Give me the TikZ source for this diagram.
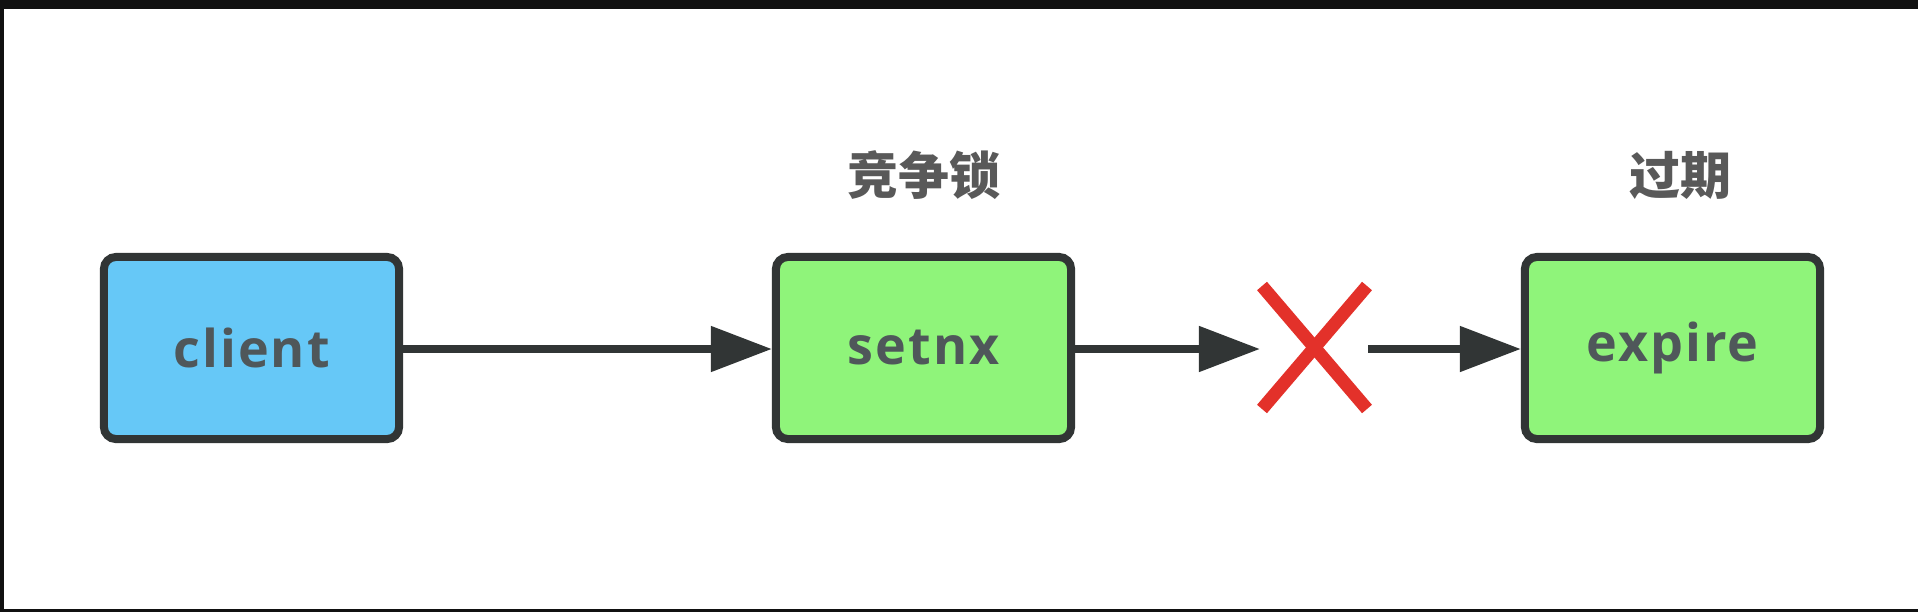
\documentclass[tikz,border=0pt]{standalone}
\usepackage{fontspec}
\usepackage{xcolor}
\usetikzlibrary{arrows.meta,calc}
\newfontfamily\boxfont{Open Sans}[LetterSpace=4]
\newfontfamily\cjk{Noto Sans CJK SC}
\definecolor{clientblue}{HTML}{66C8F7}
\definecolor{stepgreen}{HTML}{8FF47A}
\definecolor{boxline}{HTML}{313535}
\definecolor{boxtext}{HTML}{4F575A}
\definecolor{labgray}{HTML}{595959}
\definecolor{crossred}{HTML}{E3312A}
\definecolor{frameblack}{HTML}{111111}
\tikzset{
    box/.style={draw=boxline,line width=0.08cm,rounded corners=0.12cm,
        minimum width=2.95cm,minimum height=1.82cm,inner sep=0pt,
        font=\boxfont\bfseries\fontsize{14.8}{16}\selectfont,text=boxtext},
    lab/.style={inner sep=0pt,text=labgray,font=\cjk\bfseries\fontsize{14.5}{16}\selectfont},
    conn/.style={draw=boxline,line width=0.08cm,-{Triangle[length=0.61cm,width=0.44cm]}}
}
\begin{document}
\begin{tikzpicture}[x=0.01cm,y=-0.01cm]
        \useasboundingbox (0,0) rectangle (1918,612);
        \fill[white] (0,0) rectangle (1918,612);
        \fill[frameblack] (0,0) rectangle (1918,9);
        \fill[frameblack] (0,0) rectangle (4,612);
        \fill[frameblack] (0,609) rectangle (1918,612);
        \node[box,fill=clientblue] (client) at (251.5,348) {client};
        \node[box,fill=stepgreen] (setnx) at (923.5,348) {setnx};
        \node[box,fill=stepgreen] (expire) at (1672.5,348) {expire};
        \node[lab] (compete) at (924,175) {竞争锁};
        \node[lab] (timeout) at (1680,175) {过期};
        \coordinate (xin) at (1260,349);
        \coordinate (xout) at (1368,349);
        \coordinate (cross) at (1314.5,347.5);
        \draw[conn] (client.east |- xin) -- (setnx.west |- xin);
        \draw[conn] (setnx.east |- xin) -- (xin);
        \draw[conn] (xout) -- (expire.west |- xout);
        \draw[crossred,line width=0.13cm] ($(cross)+(-52.5,-61.5)$) -- ($(cross)+(52.5,61.5)$);
        \draw[crossred,line width=0.13cm] ($(cross)+(52.5,-61.5)$) -- ($(cross)+(-52.5,61.5)$);
\end{tikzpicture}
\end{document}
